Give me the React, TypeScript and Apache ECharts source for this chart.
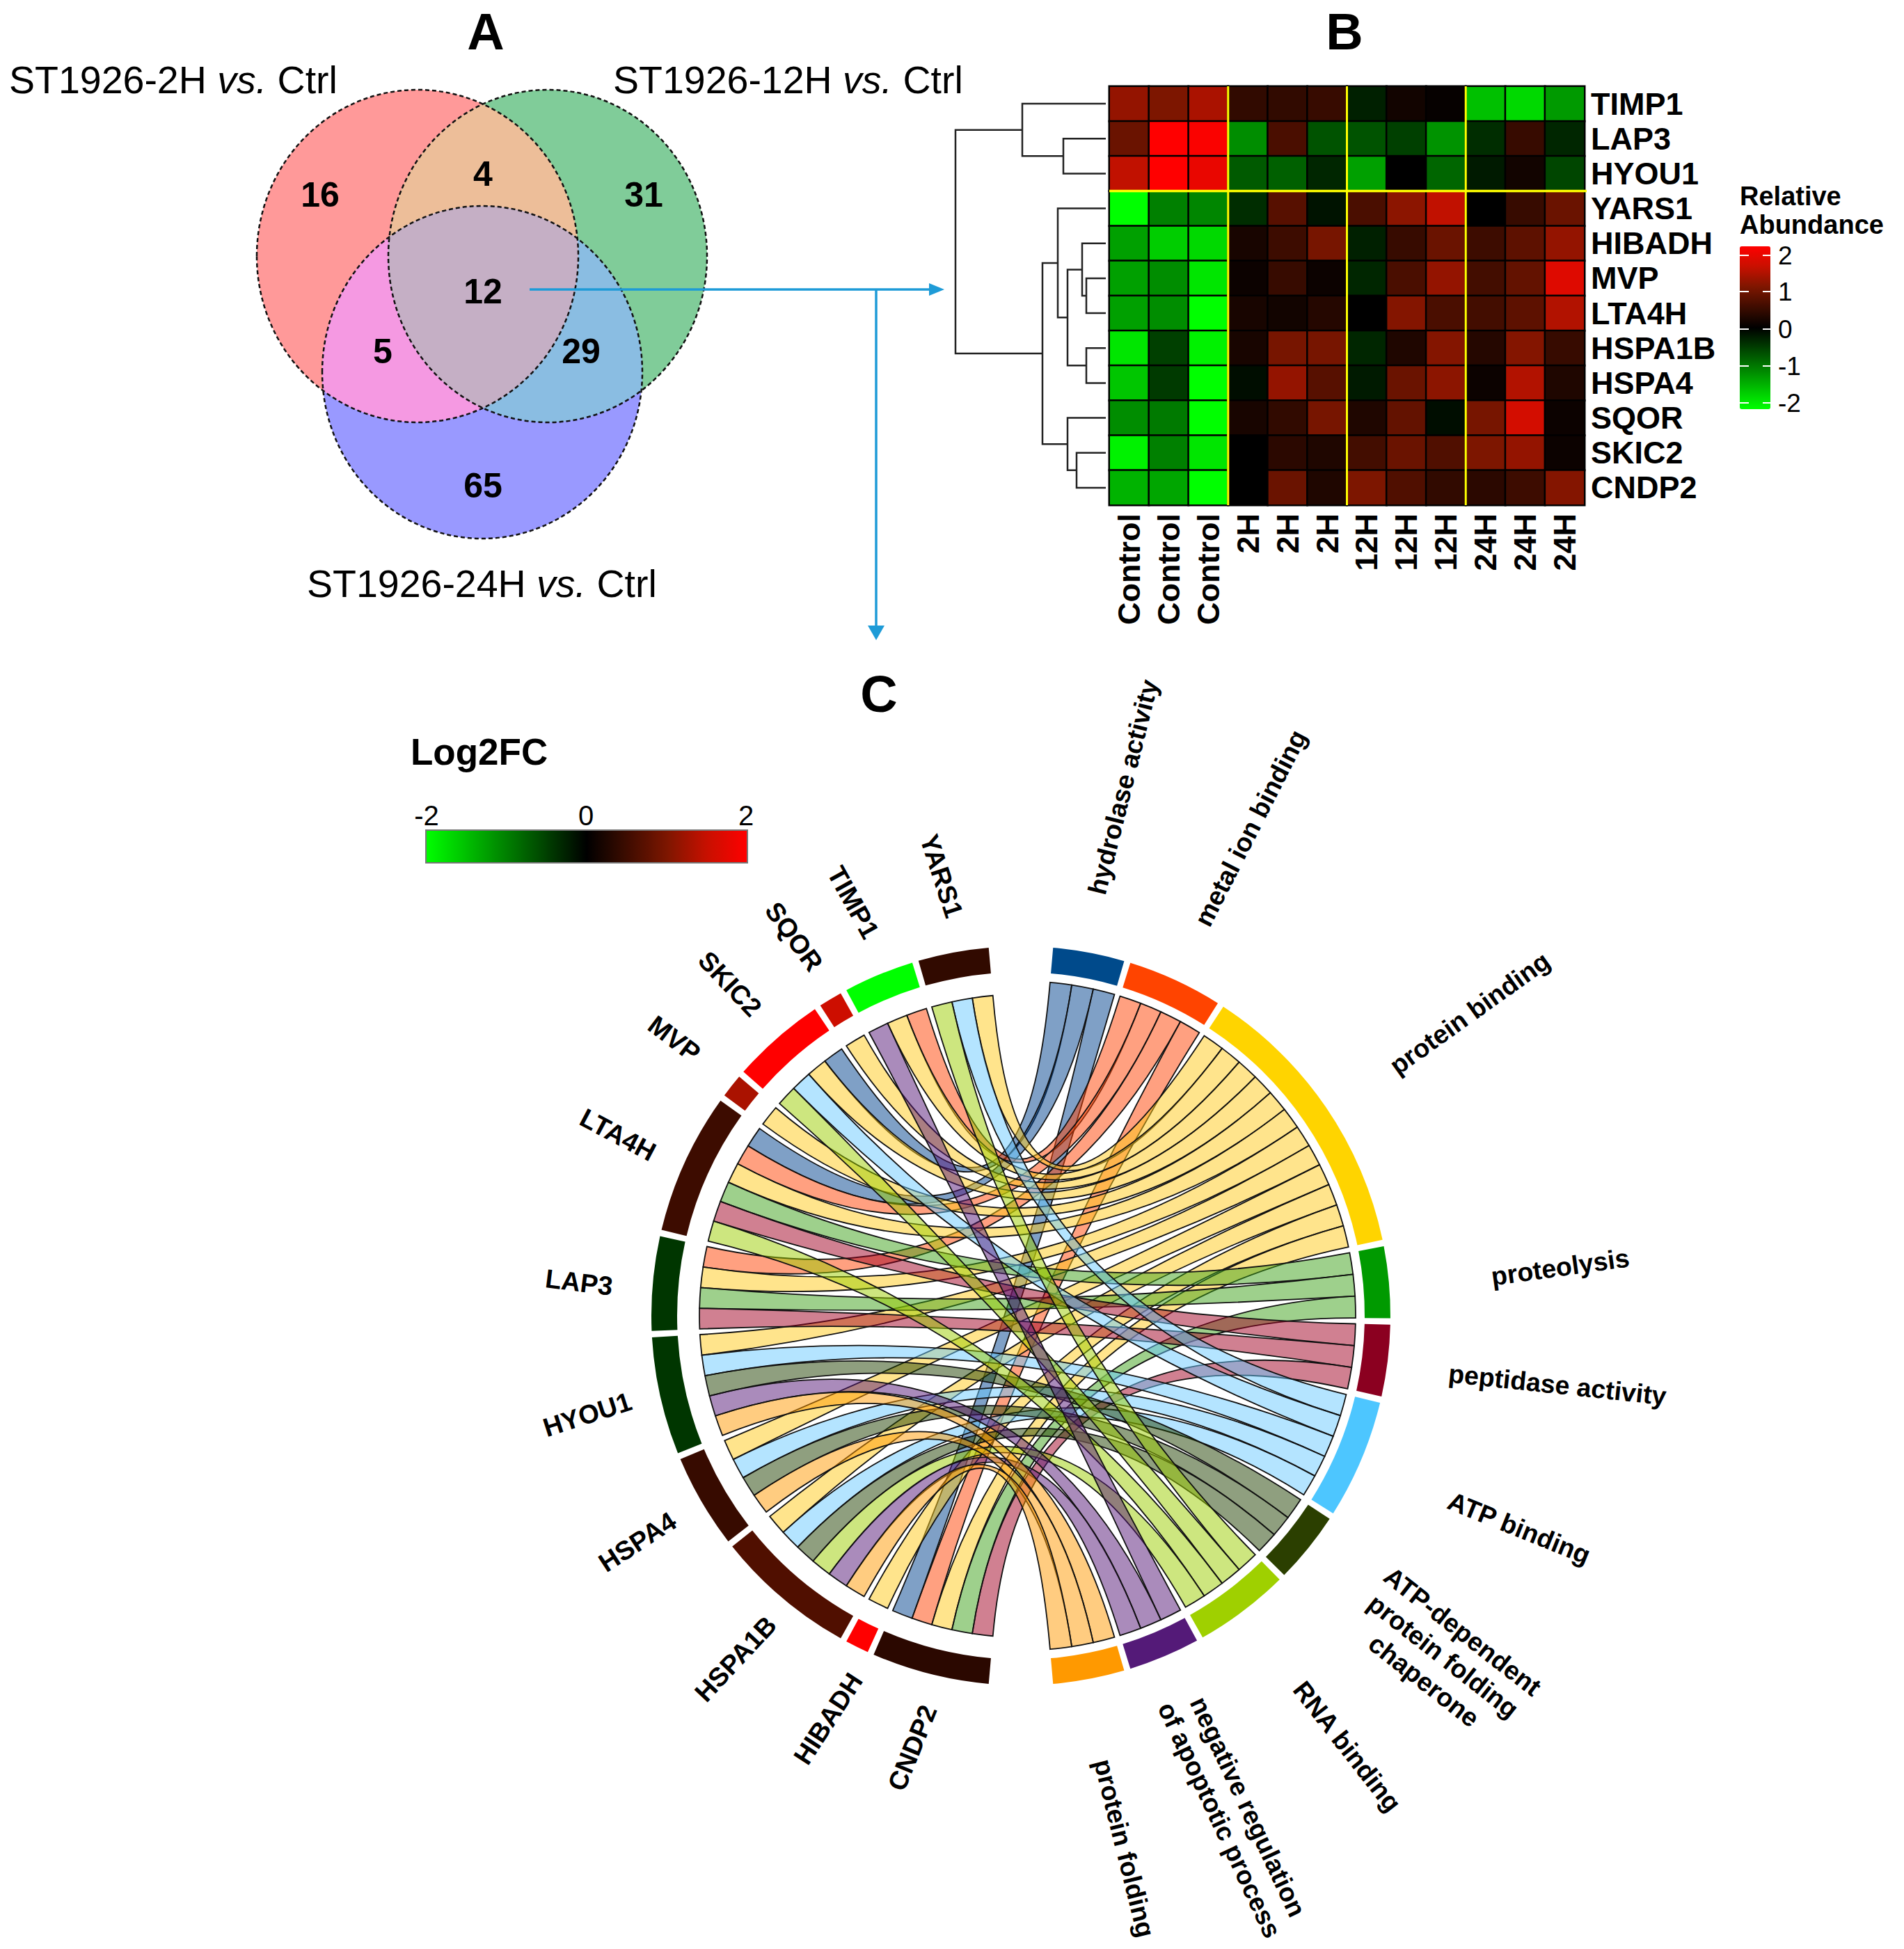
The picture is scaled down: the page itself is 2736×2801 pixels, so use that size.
import React, { useEffect, useRef } from "react";
import * as echarts from "echarts";

const FONT = '"Liberation Sans", Arial, sans-serif';

// ---------- Panel A data ----------
const vennSets = ["ST1926-2H", "ST1926-12H", "ST1926-24H"];
const vennCounts = ["16", "4", "31", "12", "5", "29", "65"];

// ---------- Panel B data ----------
const hmColumns = ["Control", "Control", "Control", "2H", "2H", "2H", "12H", "12H", "12H", "24H", "24H", "24H"];
const hmRows = ["TIMP1", "LAP3", "HYOU1", "YARS1", "HIBADH", "MVP", "LTA4H", "HSPA1B", "HSPA4", "SQOR", "SKIC2", "CNDP2"];
const hmTIMP1 = [1.15, 1.0, 1.3, 0.4, 0.4, 0.45, -0.25, 0.15, 0.05, -1.5, -1.7, -1.2];
const hmLAP3 = [0.85, 2, 1.95, -1.1, 0.6, -0.65, -0.65, -0.5, -1.15, -0.35, 0.45, -0.3];
const hmHYOU1 = [1.45, 2, 1.8, -0.7, -0.75, -0.3, -1.25, 0, -0.8, -0.2, 0.15, -0.55];
const hmYARS1 = [-2, -1, -1.05, -0.35, 0.7, -0.15, 0.6, 1.1, 1.45, 0, 0.45, 0.85];
const hmHIBADH = [-1.25, -1.6, -1.7, 0.2, 0.5, 0.95, -0.25, 0.45, 0.85, 0.5, 0.75, 1.15];
const hmMVP = [-1.25, -1.1, -1.8, 0.1, 0.45, 0.1, -0.3, 0.6, 1.15, 0.55, 0.8, 1.7];
const hmLTA4H = [-1.25, -1.1, -2, 0.2, 0.15, 0.3, 0, 1.05, 0.6, 0.55, 0.75, 1.35];
const hmHSPA1B = [-1.8, -0.5, -1.9, 0.2, 0.95, 0.95, -0.3, 0.25, 1.05, 0.3, 1.05, 0.45];
const hmHSPA4 = [-1.55, -0.45, -2, -0.1, 1.15, 0.7, -0.2, 0.85, 1.1, 0.1, 1.35, 0.25];
const hmSQOR = [-1.1, -0.95, -2, 0.2, 0.4, 0.95, 0.25, 0.8, -0.1, 0.95, 1.6, 0.1];
const hmSKIC2 = [-1.9, -1, -1.8, 0, 0.35, 0.25, 0.55, 0.85, 0.65, 1, 1.15, 0.1];
const hmCNDP2 = [-1.4, -1.3, -2, 0, 0.85, 0.25, 1, 0.65, 0.4, 0.35, 0.5, 1.05];
const hmMatrix = [hmTIMP1, hmLAP3, hmHYOU1, hmYARS1, hmHIBADH, hmMVP, hmLTA4H, hmHSPA1B, hmHSPA4, hmSQOR, hmSKIC2, hmCNDP2];
const hmTicks = ["2", "1", "0", "-1", "-2"];

// dendrogram merges: [height, childA, childB], a number child is a row index
const dendroTree: any = [1373, [1469, 0, [1528, 1, 2]], [1498, [1520, 3, [1534, [1555, 4, [1561, 5, 6]], [1561, 7, 8]]], [1534, 9, [1547, 10, 11]]]];

// ---------- Panel C data ----------
const chordTerms = [
  "hydrolase activity", "metal ion binding", "protein binding", "proteolysis", "peptidase activity",
  "ATP binding", "ATP-dependent\nprotein folding\nchaperone", "RNA binding",
  "negative regulation\nof apoptotic process", "protein folding",
];
const chordTermColors = ["#004A8B", "#FF4400", "#FFD400", "#009A00", "#8B0020", "#4DC6FF", "#2B3F00", "#9FD000", "#541A78", "#FF9900"];
const chordRibbonColors = ["#00418D", "#FF4101", "#FFC919", "#3DA119", "#A10123", "#69C9FF", "#1F3F00", "#9BCD00", "#551777", "#FF9901"];
const chordGenes = ["YARS1", "TIMP1", "SQOR", "SKIC2", "MVP", "LTA4H", "LAP3", "HYOU1", "HSPA4", "HSPA1B", "HIBADH", "CNDP2"];
const chordGeneFC = [0.4, -2, 1.55, 2, 1.3, 0.5, -0.42, -0.42, 0.45, 0.65, 2, 0.35];
// term index linked by each gene, in ring order from the top gap
const chordGeneLinks = [
  [2, 5, 7], [1, 2, 8], [2], [0, 2, 5, 7], [2], [0, 1, 2, 3, 4, 7], [1, 2, 3, 4],
  [2, 5, 6, 8, 9], [2, 5, 6, 9], [2, 5, 6, 7, 8, 9], [2], [0, 1, 2, 3, 4],
];

// ---------- Styles and layout ----------
const scaleColors = ["#00FF00", "#00C000", "#008000", "#004000", "#000000", "#3D0C00", "#7D1600", "#C81000", "#FF0000"];
const G = { left: 1594, top: 124, width: 683, height: 602 };
const C = { x: 1467, y: 1891, ringOuter: 531, ringInner: 494, geneR: 462, termR: 481, gap: 1, from: 5, span: 170 };

const rad = (d: number) => (d * Math.PI) / 180;
const pt = (a: number, r: number) => [C.x + r * Math.sin(rad(a)), C.y - r * Math.cos(rad(a))];
const fmt = (p: number[]) => `${p[0].toFixed(2)} ${p[1].toFixed(2)}`;

function rgba(hex: string, alpha: number) {
  const n = parseInt(hex.slice(1), 16);
  return `rgba(${(n >> 16) & 255},${(n >> 8) & 255},${n & 255},${alpha})`;
}

function ringPath(a0: number, a1: number) {
  return `M${fmt(pt(a0, C.ringOuter))}A${C.ringOuter} ${C.ringOuter} 0 0 1 ${fmt(pt(a1, C.ringOuter))}` +
    `L${fmt(pt(a1, C.ringInner))}A${C.ringInner} ${C.ringInner} 0 0 0 ${fmt(pt(a0, C.ringInner))}Z`;
}

function ribbonPath(g0: number, g1: number, t0: number, t1: number) {
  const c = `${C.x} ${C.y}`;
  return `M${fmt(pt(g0, C.geneR))}A${C.geneR} ${C.geneR} 0 0 1 ${fmt(pt(g1, C.geneR))}` +
    `Q${c} ${fmt(pt(t0, C.termR))}A${C.termR} ${C.termR} 0 0 1 ${fmt(pt(t1, C.termR))}` +
    `Q${c} ${fmt(pt(g0, C.geneR))}Z`;
}

function buildChord() {
  const termCounts = chordTermColors.map((_, t) => chordGeneLinks.flat().filter((v) => v === t).length);
  const total = termCounts.reduce((a, b) => a + b, 0);
  const uT = (C.span - C.gap * (chordTerms.length - 1)) / total;
  const uG = (C.span - C.gap * (chordGenes.length - 1)) / total;
  const termArcs: number[][] = [];
  const termCursor: number[] = [];
  let a = C.from;
  termCounts.forEach((n, t) => {
    termArcs.push([a, a + n * uT, t]);
    termCursor.push(a);
    a += n * uT + C.gap;
  });
  const geneArcs: number[][] = [];
  const ribbons: number[][] = [];
  let g = -C.from;
  chordGeneLinks.forEach((links, i) => {
    geneArcs.push([g - links.length * uG, g, chordGeneFC[i]]);
    links.forEach((t, k) => {
      const hi = g - k * uG;
      ribbons.push([hi - uG, hi, termCursor[t], termCursor[t] + uT, t]);
      termCursor[t] += uT;
    });
    g -= links.length * uG + C.gap;
  });
  ribbons.sort((p, q) => p[4] - q[4]);
  return { termArcs, geneArcs, ribbons };
}

// ---------- Venn helpers: convex regions from the ellipse outlines ----------
const E = [
  { cx: 600, cy: 368, rx: 231, ry: 239, fill: "#FF9999" },
  { cx: 787, cy: 368, rx: 229, ry: 239, fill: "#80CC99" },
  { cx: 693, cy: 535, rx: 230, ry: 239, fill: "#9999FF" },
];
const inside = (e: any, p: number[]) => ((p[0] - e.cx) / e.rx) ** 2 + ((p[1] - e.cy) / e.ry) ** 2 <= 1.0001;
function regionPoints(ids: number[]) {
  const pts: number[][] = [];
  ids.forEach((i) => {
    for (let k = 0; k < 720; k++) {
      const t = rad(k / 2);
      const p = [E[i].cx + E[i].rx * Math.cos(t), E[i].cy + E[i].ry * Math.sin(t)];
      if (ids.every((j) => j === i || inside(E[j], p))) pts.push(p);
    }
  });
  const mx = pts.reduce((s, p) => s + p[0], 0) / pts.length;
  const my = pts.reduce((s, p) => s + p[1], 0) / pts.length;
  return pts.sort((p, q) => Math.atan2(p[1] - my, p[0] - mx) - Math.atan2(q[1] - my, q[0] - mx));
}

function txt(text: string, x: number, y: number, size: number, bold: boolean, opts: any = {}) {
  return {
    type: "text",
    x,
    y,
    rotation: rad(opts.rot || 0),
    z: 30,
    silent: true,
    style: {
      text,
      fontFamily: FONT,
      fontSize: size,
      fontWeight: bold ? "bold" : "normal",
      fill: opts.fill || "#000",
      align: opts.align || "center",
      verticalAlign: "middle",
      lineHeight: opts.lineHeight,
      rich: opts.rich,
    },
  };
}

function buildGraphics() {
  const els: any[] = [];
  // Panel titles
  els.push(txt("A", 698, 45, 74, true), txt("B", 1932, 45, 74, true), txt("C", 1263, 997, 74, true));

  // Venn regions
  E.forEach((e) => els.push({ type: "ellipse", z: 10, silent: true, shape: { cx: e.cx, cy: e.cy, rx: e.rx, ry: e.ry }, style: { fill: e.fill } }));
  const regions: [number[], string][] = [
    [[0, 1], "#EDBE99"],
    [[0, 2], "#F599E2"],
    [[1, 2], "#8ABDE2"],
    [[0, 1, 2], "#C5AFC5"],
  ];
  regions.forEach(([ids, fill]) => els.push({ type: "polygon", z: 11, silent: true, shape: { points: regionPoints(ids) }, style: { fill } }));
  E.forEach((e) => els.push({ type: "ellipse", z: 12, silent: true, shape: { cx: e.cx, cy: e.cy, rx: e.rx, ry: e.ry }, style: { fill: "none", stroke: "#111", lineWidth: 2.5, lineDash: [6, 4] } }));
  const vennPos = [[460, 280], [694, 250], [925, 280], [694, 419], [550, 505], [835, 505], [694, 698]];
  vennCounts.forEach((v, i) => els.push(txt(v, vennPos[i][0], vennPos[i][1], 50, true)));
  const vennRich = { i: { fontFamily: FONT, fontSize: 55.5, fontStyle: "italic" } };
  const vennTitlePos = [[13, 115], [881, 115], [441, 839]];
  vennSets.forEach((s, i) =>
    els.push(txt(`${s} {i|vs.} Ctrl`, vennTitlePos[i][0], vennTitlePos[i][1], 55.5, false, { align: "left", rich: vennRich })),
  );

  // Arrows
  const blue = "#1E9BD7";
  const seg = (x1: number, y1: number, x2: number, y2: number) =>
    els.push({ type: "line", z: 13, silent: true, shape: { x1, y1, x2, y2 }, style: { stroke: blue, lineWidth: 3.5 } });
  seg(761, 416, 1340, 416);
  seg(1259, 416, 1259, 900);
  els.push({ type: "polygon", z: 13, silent: true, shape: { points: [[1357, 416], [1335, 407], [1335, 425]] }, style: { fill: blue } });
  els.push({ type: "polygon", z: 13, silent: true, shape: { points: [[1259, 920], [1247, 899], [1271, 899]] }, style: { fill: blue } });

  // Dendrogram
  const rowY = (r: number) => G.top + ((r + 0.5) * G.height) / hmRows.length;
  const walk = (n: any): number[] => {
    if (typeof n === "number") return [1589, rowY(n)];
    const a = walk(n[1]);
    const b = walk(n[2]);
    els.push({
      type: "polyline",
      z: 8,
      silent: true,
      shape: { points: [a, [n[0], a[1]], [n[0], b[1]], b] },
      style: { fill: "none", stroke: "#222", lineWidth: 2.5 },
    });
    return [n[0], (a[1] + b[1]) / 2];
  };
  walk(dendroTree);

  // Yellow separators
  const yellow = "#FFFF00";
  [3, 6, 9].forEach((c) => {
    const x = G.left + (c * G.width) / hmColumns.length;
    els.push({ type: "line", z: 20, silent: true, shape: { x1: x, y1: G.top, x2: x, y2: G.top + G.height }, style: { stroke: yellow, lineWidth: 3 } });
  });
  const hy = G.top + (3 * G.height) / hmRows.length;
  els.push({ type: "line", z: 20, silent: true, shape: { x1: G.left, y1: hy, x2: G.left + G.width + 3, y2: hy }, style: { stroke: yellow, lineWidth: 3.5 } });

  // Heatmap legend
  els.push(txt("Relative", 2500, 282, 38, true, { align: "left" }), txt("Abundance", 2500, 323, 38, true, { align: "left" }));
  const tickY = [367, 419, 473, 526, 579];
  hmTicks.forEach((t, i) => {
    els.push(txt(t, 2555, tickY[i], 37, false, { align: "left" }));
    [[2500, 2513], [2533, 2544]].forEach(([x1, x2]) =>
      els.push({ type: "line", z: 25, silent: true, shape: { x1, y1: tickY[i], x2, y2: tickY[i] }, style: { stroke: "#fff", lineWidth: 2 } }),
    );
  });

  // Log2FC legend
  els.push(txt("Log2FC", 590, 1080, 53, true, { align: "left" }));
  els.push(txt("-2", 613, 1172, 40, false), txt("0", 842, 1172, 40, false), txt("2", 1072, 1172, 40, false));
  els.push({ type: "rect", z: 25, silent: true, shape: { x: 612, y: 1193, width: 462, height: 47 }, style: { fill: "none", stroke: "#777", lineWidth: 2 } });

  // Chord labels
  const termLabelPos = [
    [1614, 1131, 76], [1797, 1190, 63], [2112, 1456, 35.6], [2242, 1821, 8], [2238, 1990, -6],
    [2183, 2196, -22], [2074, 2380, -38], [1936, 2510, -52], [1773, 2606, -65], [1616, 2656, -76],
  ];
  chordTerms.forEach((t, i) => els.push(txt(t, termLabelPos[i][0], termLabelPos[i][1], 37.5, true, { rot: termLabelPos[i][2], lineHeight: 45 })));
  const geneLabelPos = [
    [1353, 1259, -72], [1226, 1297, -61], [1141, 1346, -54], [1049, 1414, -46.6], [969, 1493, -37], [888, 1631, -28],
    [832, 1843, -7], [844, 2033, 18], [916, 2216, 33], [1057, 2384, 47], [1190, 2470, 57], [1311, 2512, 68],
  ];
  chordGenes.forEach((g, i) => els.push(txt(g, geneLabelPos[i][0], geneLabelPos[i][1], 38, true, { rot: geneLabelPos[i][2] })));
  return els;
}

export default function App() {
  const ref = useRef<HTMLDivElement>(null);
  useEffect(() => {
    document.body.style.margin = "0";
    const chart = echarts.init(ref.current!, undefined, { renderer: "svg" });
    const { termArcs, geneArcs, ribbons } = buildChord();
    const heatData: number[][] = [];
    hmMatrix.forEach((row, y) => row.forEach((v, x) => heatData.push([x, y, v])));

    chart.setOption({
      animation: false,
      backgroundColor: "#fff",
      textStyle: { fontFamily: FONT },
      grid: { ...G, show: true, borderColor: "#333", borderWidth: 2, containLabel: false },
      xAxis: {
        type: "category",
        data: hmColumns,
        axisLine: { show: false },
        axisTick: { show: false },
        splitLine: { show: false },
        axisLabel: { interval: 0, rotate: 90, margin: 12, fontSize: 45, fontWeight: "bold", color: "#000", fontFamily: FONT },
      },
      yAxis: {
        type: "category",
        data: hmRows,
        inverse: true,
        position: "right",
        axisLine: { show: false },
        axisTick: { show: false },
        splitLine: { show: false },
        axisLabel: { interval: 0, margin: 9, fontSize: 45, fontWeight: "bold", color: "#000", fontFamily: FONT },
      },
      visualMap: [
        {
          type: "continuous",
          seriesIndex: 0,
          dimension: 2,
          min: -2,
          max: 2,
          calculable: false,
          hoverLink: false,
          orient: "vertical",
          left: 2500,
          top: 354,
          padding: 0,
          itemWidth: 44,
          itemHeight: 234,
          inRange: { color: scaleColors },
          textStyle: { fontSize: 1, color: "transparent" },
        },
        {
          type: "continuous",
          seriesIndex: 1,
          dimension: 2,
          min: -2,
          max: 2,
          calculable: false,
          hoverLink: false,
          orient: "horizontal",
          left: 612,
          top: 1193,
          padding: 0,
          itemWidth: 47,
          itemHeight: 462,
          inRange: { color: scaleColors },
          textStyle: { fontSize: 1, color: "transparent" },
        },
      ],
      series: [
        {
          type: "heatmap",
          data: heatData,
          silent: true,
          itemStyle: { borderColor: "#000", borderWidth: 2.5 },
        },
        {
          type: "custom",
          coordinateSystem: "none",
          silent: true,
          data: geneArcs,
          z: 6,
          renderItem: (_: any, api: any) => ({
            type: "path",
            shape: { pathData: ringPath(api.value(0), api.value(1)) },
            style: { fill: api.visual("color") },
          }),
        },
        {
          type: "custom",
          coordinateSystem: "none",
          silent: true,
          data: termArcs,
          z: 6,
          renderItem: (_: any, api: any) => ({
            type: "path",
            shape: { pathData: ringPath(api.value(0), api.value(1)) },
            style: { fill: chordTermColors[api.value(2)] },
          }),
        },
        {
          type: "custom",
          coordinateSystem: "none",
          silent: true,
          data: ribbons,
          z: 5,
          renderItem: (_: any, api: any) => ({
            type: "path",
            shape: { pathData: ribbonPath(api.value(0), api.value(1), api.value(2), api.value(3)) },
            style: { fill: rgba(chordRibbonColors[api.value(4)], 0.5), stroke: "#111", lineWidth: 1.8 },
          }),
        },
      ],
      graphic: { elements: buildGraphics() },
    });
    return () => chart.dispose();
  }, []);
  return <div ref={ref} style={{ position: "absolute", left: 0, top: 0, width: 2736, height: 2801 }} />;
}
